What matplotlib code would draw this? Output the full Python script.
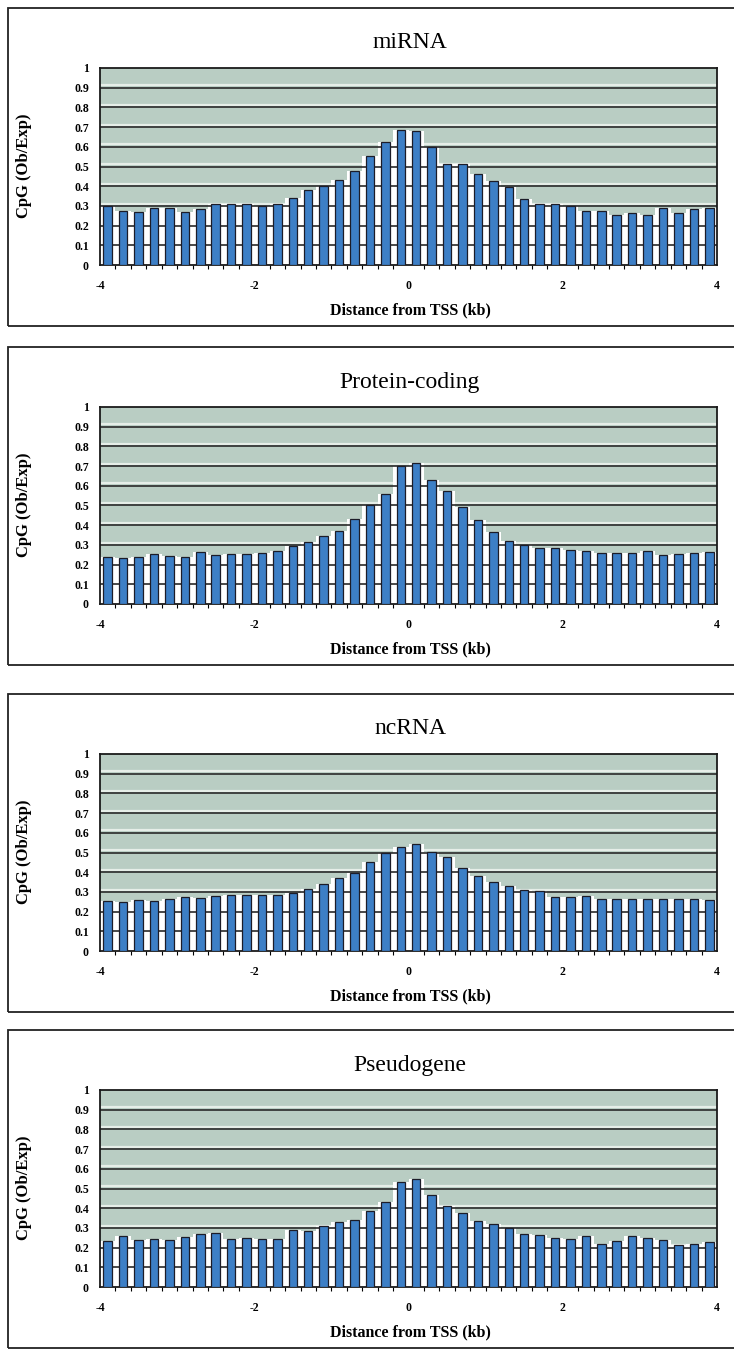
import numpy as np
import matplotlib.pyplot as plt
from matplotlib.patches import Rectangle

# Ukuran gambar (px)
W, H = 734, 1352

# Data: CpG Ob/Exp per bin 200 bp, -4 kb .. +4 kb
titles = ['miRNA', 'Protein-coding', 'ncRNA', 'Pseudogene']
dist_kb = np.arange(-3.9, 4.0, 0.2)

mirna = [0.298, 0.275, 0.27, 0.29, 0.29, 0.268, 0.286, 0.312, 0.312, 0.312,
         0.302, 0.31, 0.34, 0.38, 0.40, 0.43, 0.477, 0.552, 0.622, 0.687,
         0.678, 0.598, 0.515, 0.515, 0.46, 0.425, 0.398, 0.336, 0.312, 0.312,
         0.298, 0.276, 0.276, 0.255, 0.266, 0.256, 0.288, 0.266, 0.286, 0.29]
protein_coding = [0.24, 0.235, 0.24, 0.255, 0.245, 0.24, 0.265, 0.25, 0.255, 0.255,
                  0.26, 0.27, 0.295, 0.315, 0.345, 0.37, 0.43, 0.50, 0.56, 0.70,
                  0.715, 0.63, 0.575, 0.49, 0.425, 0.365, 0.32, 0.30, 0.285, 0.285,
                  0.275, 0.27, 0.26, 0.26, 0.26, 0.27, 0.25, 0.255, 0.26, 0.265]
ncrna = [0.255, 0.25, 0.258, 0.255, 0.262, 0.275, 0.268, 0.28, 0.282, 0.285,
         0.283, 0.285, 0.292, 0.315, 0.34, 0.372, 0.398, 0.45, 0.495, 0.528,
         0.545, 0.503, 0.475, 0.423, 0.382, 0.35, 0.328, 0.308, 0.303, 0.275,
         0.272, 0.28, 0.263, 0.266, 0.266, 0.263, 0.263, 0.266, 0.266, 0.258]
pseudogene = [0.235, 0.26, 0.24, 0.245, 0.24, 0.255, 0.27, 0.275, 0.245, 0.25,
              0.245, 0.245, 0.29, 0.285, 0.31, 0.33, 0.34, 0.385, 0.43, 0.535,
              0.55, 0.465, 0.41, 0.375, 0.335, 0.32, 0.30, 0.27, 0.265, 0.25,
              0.245, 0.26, 0.22, 0.235, 0.26, 0.25, 0.24, 0.215, 0.22, 0.23]
series = [mirna, protein_coding, ncrna, pseudogene]

xticks = [-4, -2, 0, 2, 4]
xtick_labels = ['-4', '-2', '0', '2', '4']
yticks = [0, 0.1, 0.2, 0.3, 0.4, 0.5, 0.6, 0.7, 0.8, 0.9, 1]
ytick_labels = ['0', '0.1', '0.2', '0.3', '0.4', '0.5', '0.6', '0.7', '0.8', '0.9', '1']

plt.rcParams['font.family'] = ['Liberation Serif', 'DejaVu Serif']


def fx(px):
    return px / W


def fy(py):
    return 1 - py / H


fig = plt.figure(figsize=(W / 100, H / 100), dpi=100)
fig.patch.set_facecolor('white')

tops = [8, 347, 694, 1030]
box_h = 318

for top, title, vals in zip(tops, titles, series):
    # bingkai luar
    fig.patches.append(Rectangle((fx(8), fy(top + box_h)), fx(730), box_h / H,
                                 transform=fig.transFigure, fill=False,
                                 lw=1.3, ec='#222222'))

    ax = fig.add_axes([fx(100), fy(top + 257), fx(617), 197 / H])
    ax.set_facecolor('#b9cdc3')

    # garis terang di atas gridline
    for y in yticks[1:-1]:
        ax.axhline(y + 0.012, color='#e6eee8', lw=1.6, zorder=0.5)
    # latar putih di bawah batang
    ax.bar(dist_kb, vals, width=0.2, color='white', lw=0, zorder=1)
    for y in yticks[1:-1]:
        ax.axhline(y, color='#2a2a2a', lw=1.2, zorder=2)
    ax.bar(dist_kb, vals, width=0.11, color='#3d7fc6', edgecolor='#1c1c28',
           lw=0.9, zorder=3)

    ax.set_xlim(-4, 4)
    ax.set_ylim(0, 1)
    ax.set_xticks(xticks)
    ax.set_xticklabels(xtick_labels)
    ax.set_yticks(yticks)
    ax.set_yticklabels(ytick_labels)
    ax.set_xticks(np.arange(-4, 4.01, 0.2), minor=True)
    ax.tick_params(axis='x', which='major', length=0, pad=11, labelsize=8.5)
    ax.tick_params(axis='x', which='minor', length=3, direction='out', width=0.8)
    ax.tick_params(axis='y', length=0, pad=8, labelsize=8.5)
    for lab in ax.get_xticklabels() + ax.get_yticklabels():
        lab.set_fontweight('bold')
    for sp in ax.spines.values():
        sp.set_linewidth(1.3)
        sp.set_color('#1a1a1a')

    fig.text(fx(410), fy(top + 35), title, ha='center', va='center', fontsize=17)
    fig.text(fx(410), fy(top + 302), 'Distance from TSS (kb)', ha='center',
             va='center', fontsize=11.5, fontweight='bold')
    fig.text(fx(24), fy(top + 158), 'CpG (Ob/Exp)', ha='center', va='center',
             rotation=90, fontsize=12, fontweight='bold')

fig.savefig('out.png', dpi=100)
